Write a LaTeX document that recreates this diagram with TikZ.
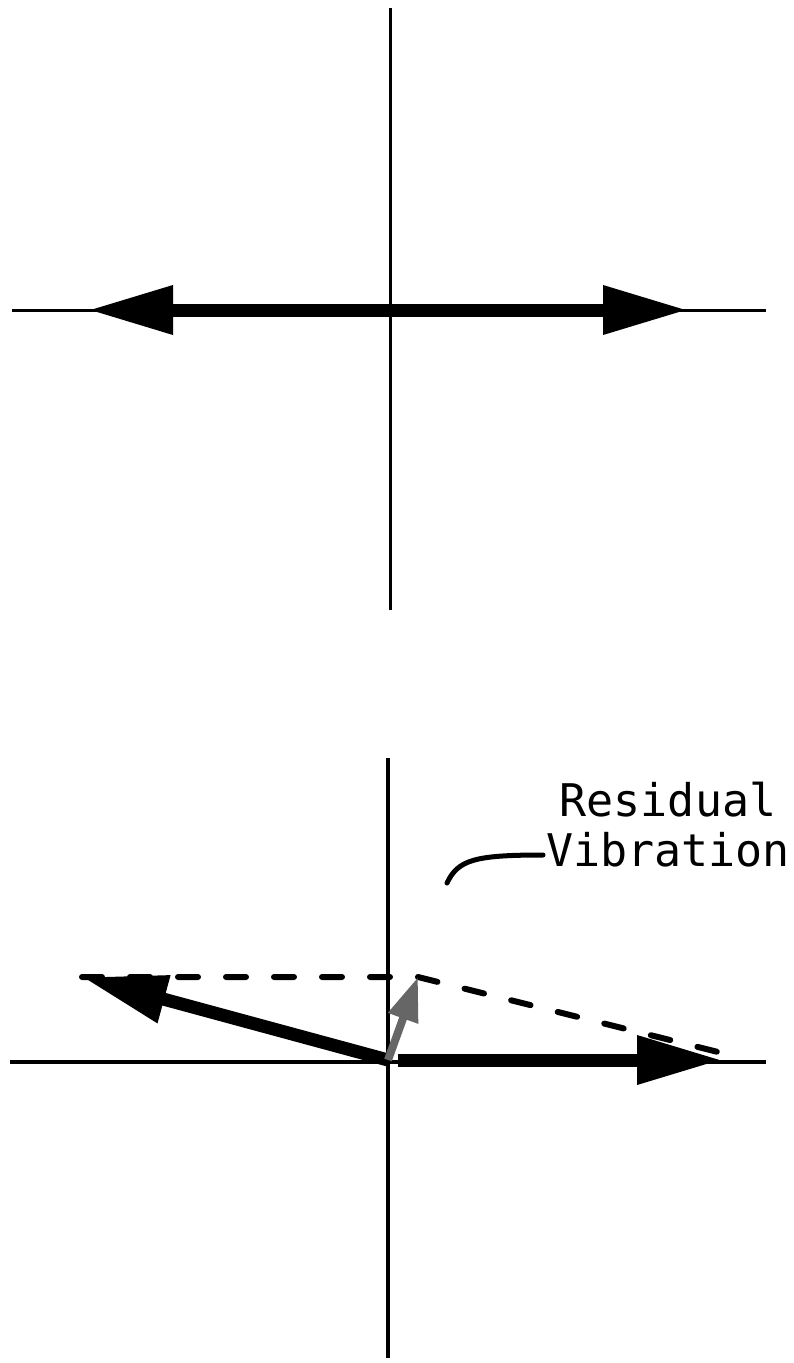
\documentclass[tikz,border=0pt]{standalone}
\usepackage{fontspec}
\newfontfamily\labelfont{DejaVu Sans Mono}
\usetikzlibrary{arrows.meta}
\begin{document}
\begin{tikzpicture}[x=1pt,y=-1pt,
  axisthin/.style={line width=3pt},
  axisbot/.style={line width=4.5pt},
  bigvec/.style={line width=13pt,-{Triangle[length=85pt,width=46pt]}},
  bigvecboth/.style={line width=13pt,{Triangle[length=85pt,width=46pt]}-{Triangle[length=85pt,width=46pt]}},
  dashline/.style={line width=6pt,dash pattern=on 20pt off 28pt,line cap=round},
  resvec/.style={line width=8pt,draw=black!60,-{Triangle[length=44pt,width=30pt,fill=black!60]}},
  leader/.style={line width=5pt,line cap=round}]
\useasboundingbox (0,0) rectangle (794,1363);
% ---------- top diagram ----------
\coordinate (T1) at (390,8);
\coordinate (T2) at (390,610);
\coordinate (H1) at (12,310);
\coordinate (H2) at (766,310);
\coordinate (TL) at (88,310);
\coordinate (TR) at (688,310);
\draw[axisthin] (T1) -- (T2);
\draw[axisthin] (H1) -- (H2);
\draw[bigvecboth] (TL) -- (TR);
% ---------- bottom diagram ----------
\coordinate (B1) at (388,758);
\coordinate (B2) at (388,1358);
\coordinate (G1) at (10,1062);
\coordinate (G2) at (766,1062);
\coordinate (O) at (388,1060);
\coordinate (OR) at (398,1060);
\coordinate (RT) at (722,1060);
\coordinate (LT) at (82,977);
\coordinate (S) at (418,977);
\coordinate (DE) at (742,1058);
\draw[axisbot] (B1) -- (B2);
\draw[axisbot] (G1) -- (G2);
\draw[dashline] (LT) -- (S) -- (DE);
\draw[bigvec] (OR) -- (RT);
\draw[bigvec] (O) -- (LT);
\draw[resvec] (O) -- (S);
% label
\node[font=\labelfont\fontsize{45}{50}\selectfont,align=center,inner sep=0pt,anchor=base] (lab) at (668,866) {Residual\\Vibration};
\coordinate (LA) at (447,883);
\coordinate (LB) at (543,855);
\draw[leader] (LA) .. controls (458,860) and (474,855) .. (LB);
\end{tikzpicture}
\end{document}
